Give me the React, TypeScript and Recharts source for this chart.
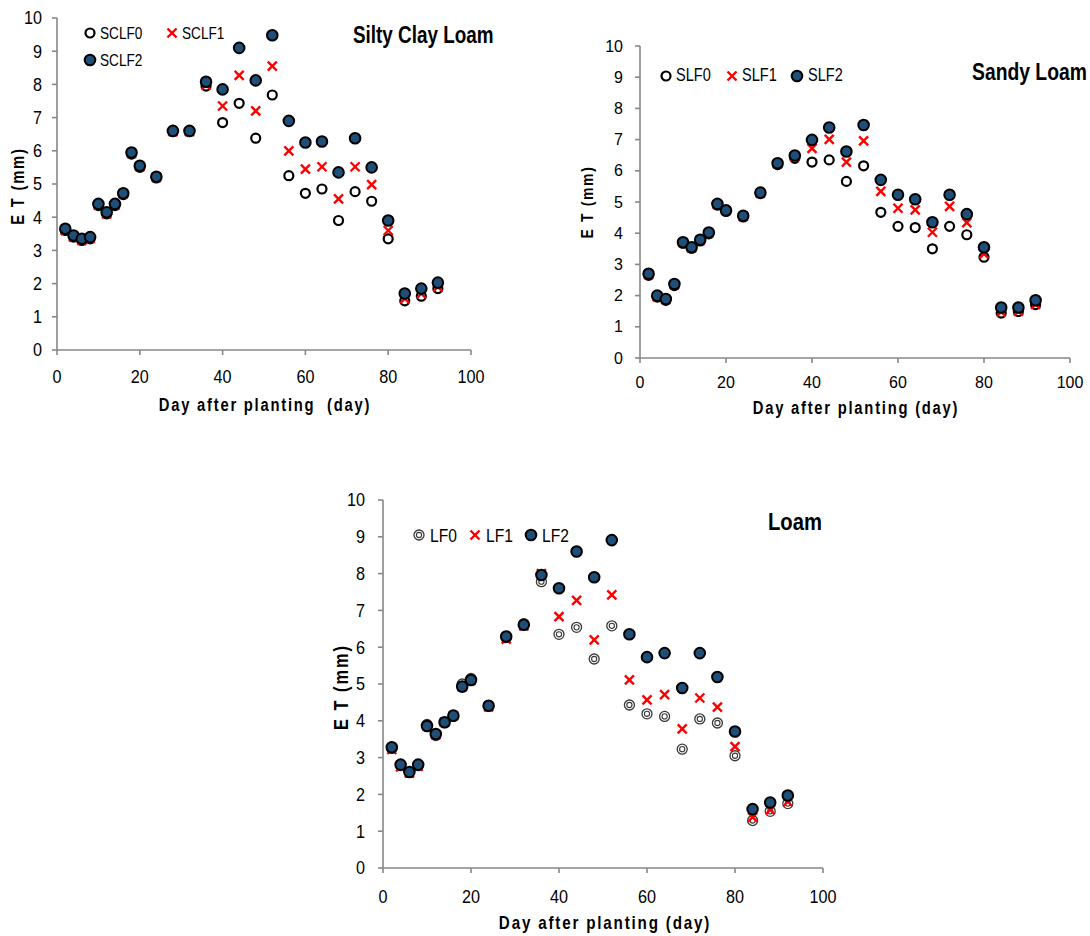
import React from "react";
import { ScatterChart, Scatter, XAxis, YAxis } from "recharts";

const days = [2, 4, 6, 8, 10, 12, 14, 16, 18, 20, 24, 28, 32, 36, 40, 44, 48, 52, 56, 60, 64, 68, 72, 76, 80, 84, 88, 92];

const xTicks = [0, 20, 40, 60, 80, 100];
const yTicks = [0, 1, 2, 3, 4, 5, 6, 7, 8, 9, 10];

// Silty Clay Loam
const sclf0 = [3.6, 3.4, 3.3, 3.35, 4.35, 4.1, 4.35, 4.68, 5.9, 5.5, 5.18, 6.58, 6.58, 7.95, 6.85, 7.43, 6.38, 7.68, 5.25, 4.72, 4.85, 3.9, 4.77, 4.48, 3.35, 1.48, 1.62, 1.85];
const sclf1 = [3.6, 3.4, 3.3, 3.36, 4.36, 4.1, 4.36, 4.7, 5.92, 5.52, 5.2, 6.58, 6.58, 7.98, 7.35, 8.27, 7.2, 8.55, 6.0, 5.45, 5.52, 4.55, 5.52, 4.98, 3.6, 1.55, 1.7, 1.9];
const sclf2 = [3.65, 3.45, 3.35, 3.4, 4.4, 4.15, 4.4, 4.72, 5.95, 5.55, 5.22, 6.6, 6.6, 8.08, 7.85, 9.1, 8.12, 9.48, 6.9, 6.25, 6.28, 5.35, 6.38, 5.5, 3.9, 1.7, 1.85, 2.03];

// Sandy Loam
const slf0 = [2.65, 1.95, 1.85, 2.32, 3.68, 3.52, 3.75, 3.98, 4.9, 4.7, 4.52, 5.27, 6.2, 6.4, 6.28, 6.35, 5.66, 6.16, 4.67, 4.22, 4.18, 3.5, 4.22, 3.95, 3.23, 1.44, 1.49, 1.71];
const slf1 = [2.67, 1.97, 1.87, 2.34, 3.7, 3.53, 3.77, 4.0, 4.92, 4.72, 4.54, 5.28, 6.22, 6.46, 6.72, 7.01, 6.28, 6.96, 5.34, 4.8, 4.75, 4.03, 4.86, 4.34, 3.34, 1.48, 1.5, 1.72];
const slf2 = [2.7, 2.0, 1.89, 2.37, 3.71, 3.55, 3.79, 4.02, 4.94, 4.73, 4.56, 5.3, 6.24, 6.49, 6.99, 7.39, 6.62, 7.47, 5.71, 5.23, 5.09, 4.35, 5.23, 4.61, 3.55, 1.62, 1.62, 1.85];

// Loam
const lf0 = [3.25, 2.78, 2.6, 2.78, 3.9, 3.6, 3.95, 4.12, 5.0, 5.15, 4.4, 6.26, 6.64, 7.78, 6.35, 6.54, 5.68, 6.58, 4.43, 4.19, 4.12, 3.23, 4.05, 3.94, 3.05, 1.29, 1.54, 1.75];
const lf1 = [3.22, 2.75, 2.58, 2.76, 3.86, 3.62, 3.96, 4.14, 4.92, 5.1, 4.38, 6.22, 6.58, 8.0, 6.83, 7.27, 6.2, 7.42, 5.11, 4.57, 4.71, 3.78, 4.62, 4.37, 3.3, 1.38, 1.58, 1.8];
const lf2 = [3.28, 2.81, 2.61, 2.81, 3.86, 3.64, 3.96, 4.14, 4.93, 5.11, 4.41, 6.29, 6.61, 7.96, 7.6, 8.6, 7.9, 8.91, 6.35, 5.73, 5.84, 4.89, 5.84, 5.19, 3.71, 1.6, 1.78, 1.97];

const FONT = '"Liberation Sans", Arial, sans-serif';
const AXIS = "#878787";
const BLUE = "#1F4E79";
const RED = "#FF0000";

const toRows = (values: number[]) => values.map((et, i) => ({ day: days[i], et }));

function OpenDot(props: any) {
  const { cx, cy } = props;
  return <circle cx={cx} cy={cy} r={4.5} fill="#fff" stroke="#000" strokeWidth={2.2} />;
}

function DoubleDot(props: any) {
  const { cx, cy } = props;
  return (
    <g>
      <circle cx={cx} cy={cy} r={5} fill="#fff" stroke="#3a3a3a" strokeWidth={1.3} />
      <circle cx={cx} cy={cy} r={2.6} fill="none" stroke="#3a3a3a" strokeWidth={1.1} />
    </g>
  );
}

function Cross(props: any) {
  const { cx, cy } = props;
  const s = 4.5;
  return (
    <g stroke={RED} strokeWidth={2.4}>
      <line x1={cx - s} y1={cy - s} x2={cx + s} y2={cy + s} />
      <line x1={cx - s} y1={cy + s} x2={cx + s} y2={cy - s} />
    </g>
  );
}

function BlueDot(props: any) {
  const { cx, cy } = props;
  return <circle cx={cx} cy={cy} r={5.3} fill={BLUE} stroke="#000" strokeWidth={2} />;
}

function NarrowTick(props: any) {
  const { x, y, payload, textAnchor, axis, size, sx } = props;
  return (
    <text
      transform={`translate(${x},${y}) scale(${sx},1)`}
      textAnchor={textAnchor}
      dy={axis === "x" ? "0.71em" : "0.35em"}
      fontSize={size}
      fontFamily={FONT}
      fill="#000"
    >
      {payload.value}
    </text>
  );
}

interface PanelProps {
  left: number;
  top: number;
  width: number;
  height: number;
  margin: { top: number; right: number; bottom: number; left: number };
  tickFont: number;
  tickScale: number;
  tickMarginX: number;
  tickMarginY: number;
  series: { name: string; values: number[]; shape: any }[];
}

function Panel(p: PanelProps) {
  return (
    <div style={{ position: "absolute", left: p.left, top: p.top, width: p.width, height: p.height }}>
      <ScatterChart width={p.width} height={p.height} margin={{ ...p.margin, left: 0 }}>
        <XAxis
          type="number"
          dataKey="day"
          domain={[0, 100]}
          ticks={xTicks}
          height={30}
          stroke={AXIS}
          strokeWidth={1.6}
          tickSize={5}
          tickMargin={p.tickMarginX}
          tick={(t: any) => <NarrowTick {...t} axis="x" size={p.tickFont} sx={p.tickScale} />}
        />
        <YAxis
          type="number"
          dataKey="et"
          domain={[0, 10]}
          ticks={yTicks}
          width={p.margin.left}
          interval={0}
          stroke={AXIS}
          strokeWidth={1.6}
          tickSize={5}
          tickMargin={p.tickMarginY}
          tick={(t: any) => <NarrowTick {...t} axis="y" size={p.tickFont} sx={p.tickScale} />}
        />
        {p.series.map((s) => (
          <Scatter
            key={s.name}
            name={s.name}
            data={toRows(s.values)}
            shape={s.shape}
            isAnimationActive={false}
          />
        ))}
      </ScatterChart>
    </div>
  );
}

// centred text (axis titles), optionally rotated
function Caption(props: { text: string; x: number; y: number; size: number; rotate?: boolean; sx?: number; spacing?: number }) {
  const { text, x, y, size, rotate, sx = 0.82, spacing = 0.12 } = props;
  return (
    <div
      style={{
        position: "absolute",
        left: x,
        top: y,
        fontFamily: FONT,
        fontWeight: 700,
        fontSize: size,
        lineHeight: 1,
        letterSpacing: `${spacing}em`,
        whiteSpace: "pre",
        transform: `translate(-50%, -50%)${rotate ? " rotate(-90deg)" : ""} scaleX(${sx})`,
      }}
    >
      {text}
    </div>
  );
}

// left-anchored text (titles, legend entries)
function Tag(props: { text: string; x: number; y: number; size: number; bold?: boolean; sx: number }) {
  const { text, x, y, size, bold, sx } = props;
  return (
    <div
      style={{
        position: "absolute",
        left: x,
        top: y,
        fontFamily: FONT,
        fontWeight: bold ? 700 : 400,
        fontSize: size,
        lineHeight: 1,
        whiteSpace: "pre",
        transformOrigin: "left center",
        transform: `translateY(-50%) scaleX(${sx})`,
      }}
    >
      {text}
    </div>
  );
}

function Mark(props: { kind: string; x: number; y: number }) {
  const { kind, x, y } = props;
  return (
    <svg width={14} height={14} style={{ position: "absolute", left: x - 7, top: y - 7 }}>
      {kind === "open" && <OpenDot cx={7} cy={7} />}
      {kind === "double" && <DoubleDot cx={7} cy={7} />}
      {kind === "cross" && <Cross cx={7} cy={7} />}
      {kind === "blue" && <BlueDot cx={7} cy={7} />}
    </svg>
  );
}

export default function App() {
  return (
    <div style={{ position: "absolute", left: 0, top: 0, width: 1090, height: 936, overflow: "hidden", background: "#fff" }}>
      <Panel
        left={0}
        top={0}
        width={500}
        height={420}
        margin={{ top: 18, right: 29, bottom: 40, left: 57 }}
        tickFont={18}
        tickScale={0.9}
        tickMarginX={15}
        tickMarginY={10}
        series={[
          { name: "SCLF0", values: sclf0, shape: OpenDot },
          { name: "SCLF1", values: sclf1, shape: Cross },
          { name: "SCLF2", values: sclf2, shape: BlueDot },
        ]}
      />
      <Panel
        left={570}
        top={30}
        width={520}
        height={390}
        margin={{ top: 16, right: 20, bottom: 32, left: 70 }}
        tickFont={16}
        tickScale={1}
        tickMarginX={14}
        tickMarginY={12}
        series={[
          { name: "SLF0", values: slf0, shape: OpenDot },
          { name: "SLF1", values: slf1, shape: Cross },
          { name: "SLF2", values: slf2, shape: BlueDot },
        ]}
      />
      <Panel
        left={320}
        top={480}
        width={540}
        height={456}
        margin={{ top: 20, right: 37, bottom: 38, left: 63 }}
        tickFont={18}
        tickScale={0.9}
        tickMarginX={17}
        tickMarginY={13}
        series={[
          { name: "LF0", values: lf0, shape: DoubleDot },
          { name: "LF1", values: lf1, shape: Cross },
          { name: "LF2", values: lf2, shape: BlueDot },
        ]}
      />

      {/* Silty Clay Loam */}
      <Caption text="E T (mm)" x={18} y={186} size={18} rotate />
      <Caption text="Day after planting  (day)" x={265} y={405} size={18} />
      <Tag text="Silty Clay Loam" x={353} y={35} size={23} bold sx={0.82} />
      <Mark kind="open" x={90} y={33} />
      <Tag text="SCLF0" x={100} y={33} size={17} sx={0.8} />
      <Mark kind="cross" x={172} y={33} />
      <Tag text="SCLF1" x={182} y={33} size={17} sx={0.8} />
      <Mark kind="blue" x={90} y={60} />
      <Tag text="SCLF2" x={100} y={60} size={17} sx={0.8} />

      {/* Sandy Loam (kept inside the page edge) */}
      <Caption text="E T (mm)" x={587} y={202} size={17} rotate />
      <Caption text="Day after planting (day)" x={856} y={408} size={18} />
      <Tag text="Sandy Loam" x={972} y={72} size={23} bold sx={0.84} />
      <Mark kind="open" x={666} y={76} />
      <Tag text="SLF0" x={676} y={76} size={17.5} sx={0.83} />
      <Mark kind="cross" x={732} y={76} />
      <Tag text="SLF1" x={742} y={76} size={17.5} sx={0.83} />
      <Mark kind="blue" x={797} y={76} />
      <Tag text="SLF2" x={808} y={76} size={17.5} sx={0.83} />

      {/* Loam */}
      <Caption text="E T (mm)" x={341} y={687} size={20} rotate />
      <Caption text="Day after planting (day)" x={605} y={923} size={18.5} />
      <Tag text="Loam" x={768} y={522} size={23} bold sx={0.88} />
      <Mark kind="double" x={419} y={535} />
      <Tag text="LF0" x={430} y={535} size={19} sx={0.82} />
      <Mark kind="cross" x={475} y={535} />
      <Tag text="LF1" x={486} y={535} size={19} sx={0.82} />
      <Mark kind="blue" x={531} y={535} />
      <Tag text="LF2" x={542} y={535} size={19} sx={0.82} />
    </div>
  );
}
